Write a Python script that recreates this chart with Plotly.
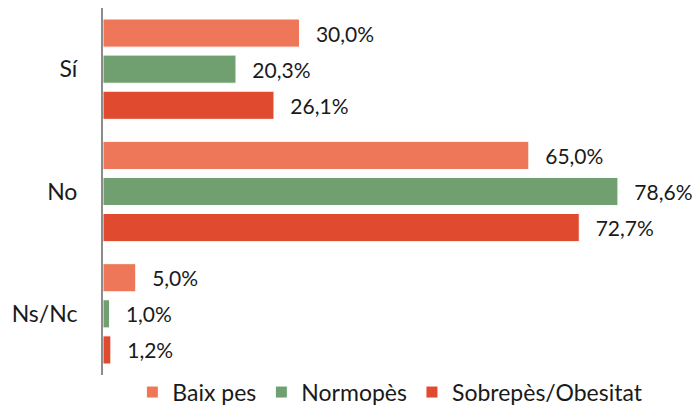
import plotly.graph_objects as go

categories = ["Sí", "No", "Ns/Nc"]
series_names = ["Baix pes", "Normopès", "Sobrepès/Obesitat"]
baix_pes = [30.0, 65.0, 5.0]
normopes = [20.3, 78.6, 1.0]
sobrepes = [26.1, 72.7, 1.2]
colors = ["#EE775A", "#70A070", "#E04B30"]

fig = go.Figure()
for name, vals, col in zip(series_names, [baix_pes, normopes, sobrepes], colors):
    fig.add_trace(go.Bar(
        y=categories, x=vals, name=name, orientation="h",
        marker=dict(color=col, line=dict(color="white", width=1)),
        texttemplate="\u00a0\u00a0\u2009%{x:.1f}%", textposition="outside",
        constraintext="none",
        textfont=dict(size=21, color="#1a1a1a"), cliponaxis=False,
    ))

fig.update_layout(
    width=698, height=406,
    margin=dict(l=103, r=8, t=8, b=31, autoexpand=False),
    paper_bgcolor="white", plot_bgcolor="white",
    font=dict(family="Lato, sans-serif", size=21, color="#1a1a1a"),
    separators=",.",
    barmode="group", bargap=0.115, bargroupgap=0.22,
    showlegend=True,
    legend=dict(orientation="h", x=0.05, y=0.012, xanchor="left", yanchor="top",
                font=dict(size=23), traceorder="normal"),
)
fig.update_xaxes(visible=False, range=[0, 89.6], showgrid=False, zeroline=False)
fig.update_yaxes(autorange="reversed", showline=True, linecolor="#8c8c8c", linewidth=2,
                 ticks="", ticklabelstandoff=19, showgrid=False, automargin=False,
                 tickfont=dict(size=23))
fig.write_html("out.html", config={"displayModeBar": False},
               post_script="document.body.style.margin='0';")
